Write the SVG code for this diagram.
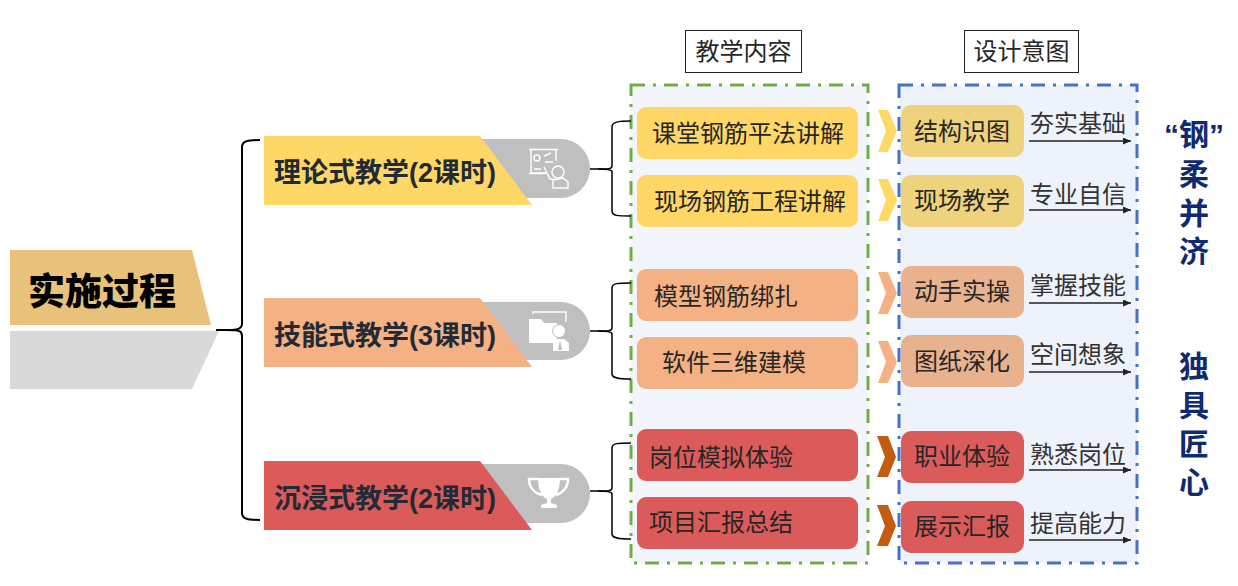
<svg xmlns="http://www.w3.org/2000/svg" width="1238" height="586" viewBox="0 0 1238 586">
<defs>
<marker id="arr" markerWidth="9" markerHeight="8" refX="8" refY="3.5" orient="auto" markerUnits="userSpaceOnUse"><path d="M0 0L8 3.5L0 7z" fill="#222"/></marker>
</defs>
<style>
text{font-family:"Noto Sans CJK SC","Liberation Sans",sans-serif;fill:#262626}
.box{font-size:24px;text-anchor:middle}
.lbl{font-size:24px;text-anchor:middle;fill:#333}
.head{font-size:24px;text-anchor:middle}
.cat{font-size:27px;font-weight:700;fill:#222a35;font-family:"Liberation Sans","Noto Sans CJK SC",sans-serif}
.side{font-size:30px;font-weight:700;fill:#0f2a70;text-anchor:middle;font-family:"Liberation Sans","Noto Sans CJK SC",sans-serif}
.b{fill:none;stroke:#000;stroke-width:1.5}
.ar{stroke:#222;stroke-width:1.3;fill:none;marker-end:url(#arr)}
.w{fill:none;stroke:#fff;stroke-width:1.4}
</style>
<rect width="1238" height="586" fill="#fff"/>

<g id="panel-content"><rect x="631" y="85" width="237" height="478" fill="#f2f6fc" stroke="#70ad47" stroke-width="3" stroke-dasharray="14 8 3 8"/></g>
<g id="panel-intent"><rect x="899" y="85" width="238" height="478" fill="#eef2fb" stroke="#4472c4" stroke-width="3" stroke-dasharray="14 8 3 8"/></g>

<g id="head-content"><rect x="685.500" y="30.500" width="116" height="42" fill="#fff" stroke="#222"/><text class="head" x="743.500" y="60">教学内容</text></g>
<g id="head-intent"><rect x="964.500" y="30.500" width="114" height="42" fill="#fff" stroke="#222"/><text class="head" x="1021.500" y="60">设计意图</text></g>

<g id="connectors">
<path class="b" style="stroke-width:2" d="M216 330C232 330 242 331 242 324V147C242 141 248 140 260 140"/>
<path class="b" style="stroke-width:2" d="M226 330C240 330 242 331 242 336V513C242 519 248 520 260 520"/>
<path class="b" d="M590 169C606 169 612 170 612 166V127C612 122 618 121 631 121"/>
<path class="b" d="M598 169C608 169 612 170 612 172V211C612 216 618 216 631 216"/>
<path class="b" d="M590 331C606 331 612 332 612 328V288C612 283 618 283 631 283"/>
<path class="b" d="M598 331C608 331 612 332 612 334V374C612 378 618 379 631 379"/>
<path class="b" d="M590 491C606 491 612 492 612 488V448C612 443 618 443 631 443"/>
<path class="b" d="M598 491C608 491 612 492 612 494V534C612 538 618 539 631 539"/>
<path class="ar" d="M1029 141H1131"/>
<path class="ar" d="M1029 210H1131"/>
<path class="ar" d="M1029 303H1131"/>
<path class="ar" d="M1029 372H1131"/>
<path class="ar" d="M1029 470H1131"/>
<path class="ar" d="M1029 540H1131"/>
</g>

<g id="root">
<path d="M10 250H192L211 325H10z" fill="#e8c17a"/>
<path d="M10 331H219L192 389H10z" fill="#d9d9d9"/>
<text x="28" y="305" style="font-size:37px;font-weight:900;fill:#000">实施过程</text>
</g>

<g id="cat1">
<path d="M480 139H561A29 29.500 0 0 1 561 198H510z" fill="#bfbfbf"/>
<path d="M264 136H480L532 205H264z" fill="#ffd766"/>
<text class="cat" x="274" y="182">理论式教学(2课时)</text>
<g class="icon">
<path class="w" d="M529 149.500H558M531 150V173H546M556 150V161M529 173.500H546"/>
<circle class="w" cx="537" cy="158" r="3"/>
<path class="w" d="M544 156L551 153M545 162H553M534 169H541"/>
<circle class="w" cx="558" cy="172" r="6"/>
<path class="w" d="M544 167L550 179H554M553 188V180L563 178L568 182V188H553z"/>
</g>
</g>

<g id="cat2">
<path d="M480 302H561A29 29 0 0 1 561 360H510z" fill="#bfbfbf"/>
<path d="M264 298H480L532 367H264z" fill="#f4b183"/>
<text class="cat" x="274" y="345">技能式教学(3课时)</text>
<g class="icon">
<path d="M529 319H541L544 323H557V343H529z" fill="#fff"/>
<path class="w" d="M533 314V312H566V322"/>
<circle cx="559" cy="331" r="6.500" fill="#fff" stroke="#bfbfbf"/>
<path d="M553 351V343L558 339L564 339L569 343V351z" fill="#fff"/>
<path d="M560 340L558 350H562z" fill="#bfbfbf"/>
</g>
</g>

<g id="cat3">
<path d="M480 464H561A29 29.500 0 0 1 561 523H510z" fill="#bfbfbf"/>
<path d="M264 461H480L532 530H264z" fill="#db5a5a"/>
<text class="cat" x="274" y="508">沉浸式教学(2课时)</text>
<g class="icon">
<path d="M538 478H560C560 490 556 497 551 499V503L557 505V508H541V505L547 503V499C542 497 538 490 538 478z" fill="#fff"/>
<path d="M539 479H529C529 487 534 493 542 495M559 479H568C568 487 563 493 556 495" fill="none" stroke="#fff" stroke-width="2.500"/>
</g>
</g>

<g id="c1"><rect x="637" y="107" width="221" height="52" rx="9" fill="#ffd766"/><text class="box" x="748" y="142">课堂钢筋平法讲解</text></g>
<g id="c2"><rect x="637" y="175" width="221" height="52" rx="9" fill="#ffd766"/><text class="box" x="750" y="210">现场钢筋工程讲解</text></g>
<g id="c3"><rect x="637" y="269" width="221" height="52" rx="9" fill="#f4b183"/><text class="box" x="726" y="305">模型钢筋绑扎</text></g>
<g id="c4"><rect x="637" y="337" width="221" height="52" rx="9" fill="#f4b183"/><text class="box" x="734" y="371">软件三维建模</text></g>
<g id="c5"><rect x="637" y="429" width="221" height="52" rx="9" fill="#db5a5a"/><text class="box" x="721" y="466">岗位模拟体验</text></g>
<g id="c6"><rect x="637" y="497" width="221" height="52" rx="9" fill="#db5a5a"/><text class="box" x="721" y="531">项目汇报总结</text></g>

<g id="chevrons">
<path d="M878 110H888L897 131L888 152H878L886 131z" fill="#ffd966"/>
<path d="M878 179H888L897 200L888 221H878L886 200z" fill="#ffd966"/>
<path d="M878 272H888L897 293L888 314H878L886 293z" fill="#f4b183"/>
<path d="M878 341H888L897 362L888 383H878L886 362z" fill="#f4b183"/>
<path d="M877 436H888L896 457L888 477H877L885 457z" fill="#c55a11"/>
<path d="M877 505H888L896 526L888 546H877L885 526z" fill="#c55a11"/>
</g>

<g id="i1"><rect x="901" y="105" width="123" height="52" rx="10" fill="#efd27c"/><text class="box" x="962" y="140">结构识图</text></g>
<g id="i2"><rect x="901" y="175" width="123" height="52" rx="10" fill="#efd27c"/><text class="box" x="962" y="209">现场教学</text></g>
<g id="i3"><rect x="901" y="266" width="123" height="52" rx="10" fill="#e9b28f"/><text class="box" x="962" y="300">动手实操</text></g>
<g id="i4"><rect x="901" y="335" width="123" height="52" rx="10" fill="#e9b28f"/><text class="box" x="962" y="370">图纸深化</text></g>
<g id="i5"><rect x="901" y="431" width="123" height="52" rx="10" fill="#db5a5a"/><text class="box" x="962" y="465">职业体验</text></g>
<g id="i6"><rect x="901" y="501" width="123" height="52" rx="10" fill="#db5a5a"/><text class="box" x="962" y="535">展示汇报</text></g>

<g id="labels">
<text class="lbl" x="1078" y="132">夯实基础</text>
<text class="lbl" x="1078" y="203">专业自信</text>
<text class="lbl" x="1078" y="294">掌握技能</text>
<text class="lbl" x="1078" y="363">空间想象</text>
<text class="lbl" x="1078" y="463">熟悉岗位</text>
<text class="lbl" x="1078" y="532">提高能力</text>
</g>

<g id="side">
<text class="side"><tspan x="1194" y="145">“钢”</tspan><tspan x="1194" y="185">柔</tspan><tspan x="1194" y="224">并</tspan><tspan x="1194" y="262">济</tspan></text>
<text class="side"><tspan x="1194" y="377">独</tspan><tspan x="1194" y="416">具</tspan><tspan x="1194" y="455">匠</tspan><tspan x="1194" y="493">心</tspan></text>
</g>
</svg>
